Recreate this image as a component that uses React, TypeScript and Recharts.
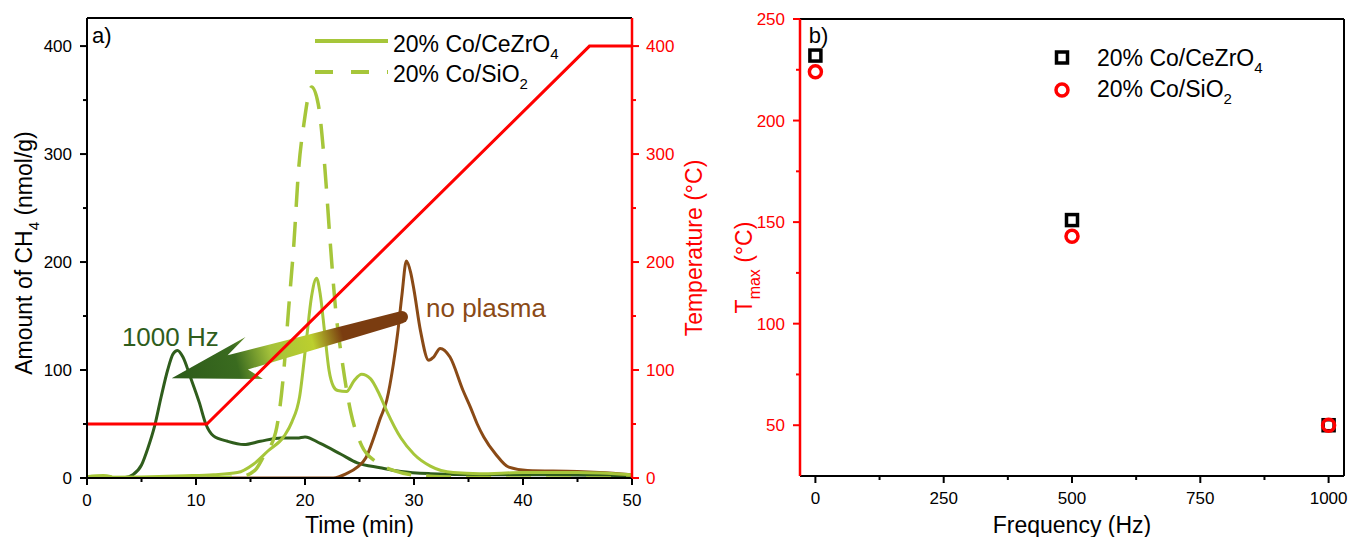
import React from 'react';
import {
  LineChart, Line, XAxis, YAxis, ReferenceLine, ReferenceDot, Legend,
  ScatterChart, Scatter,
} from 'recharts';

const FONT = "'Liberation Sans', Arial, Helvetica, sans-serif";

// ---------- Panel a) data ----------
const timeHz1000 = [0, 2, 3.5, 4.2, 5, 5.6, 6.2, 6.8, 7.4, 7.9, 8.3, 8.8, 9.5, 10.3, 10.9, 11.6, 12.9, 14.4, 15.9, 17.8, 19.3, 20.0, 21.4, 23.3, 24.8, 26.9, 28.8, 31.5, 36, 42, 50];
const ch4Hz1000 = [0, 0, 0.5, 3, 12, 28, 48, 75, 100, 115, 118, 112, 93, 70, 50, 39, 34, 31, 34, 37, 37, 38, 32, 22, 14, 9.5, 6, 4, 3, 3, 2];

const timeCeZr = [0, 5, 9, 11.6, 13.8, 15.3, 16.6, 18.1, 18.8, 19.5, 20.1, 20.6, 21.06, 21.4, 21.8, 22.2, 22.6, 23.0, 23.8, 24.5, 25.2, 26.0, 26.8, 27.5, 28.8, 30, 31.5, 33.6, 36, 40, 45, 50];
const ch4CeZr = [0.5, 1, 2, 3, 5, 13, 25, 39, 52, 75, 125, 168, 185, 170, 135, 100, 85, 81, 80, 90, 96, 92, 78, 62, 37, 22, 11, 5, 4, 5, 5, 3];

const timeSiO2 = [0, 1.5, 3, 10, 14, 15.4, 16.2, 17.3, 18.0, 18.5, 19.0, 19.4, 19.9, 20.6, 21.2, 21.8, 22.3, 22.8, 23.4, 24.2, 25.2, 26.5, 28.1, 30.2, 33, 40, 50];
const ch4SiO2 = [1, 2, 0, 0, 1, 7, 20, 42, 93, 157, 220, 284, 328, 362, 347, 290, 220, 157, 109, 61, 30, 15, 7, 2.5, 1, 0, 0];

const timeNoPlasma = [0, 22.6, 23.8, 24.8, 25.6, 26.3, 26.9, 27.5, 28.1, 28.5, 28.9, 29.3, 29.7, 30.0, 30.6, 31.35, 31.8, 32.4, 33.3, 34.5, 35.2, 35.8, 36.4, 37.5, 38.7, 40.4, 45, 47, 50];
const ch4NoPlasma = [0, 0, 4, 10, 19, 37, 55, 72, 105, 134, 170, 201, 190, 174, 136, 109, 112, 120, 112, 81, 65, 50, 38, 22, 10, 7, 6, 5, 3];

const timeRamp = [0, 11, 46.1, 50];
const tempRamp = [50, 50, 400, 400];

const timeTicks = [0, 5, 10, 15, 20, 25, 30, 35, 40, 45, 50];
const amountTicks = [0, 50, 100, 150, 200, 250, 300, 350, 400];
const tempTicks = [0, 50, 100, 150, 200, 250, 300, 350, 400];

// ---------- Panel b) data ----------
const frequencies = [0, 500, 1000];
const tmaxCeZr = [232, 151, 50];
const tmaxSiO2 = [224, 143, 50];
const freqTicks = [0, 125, 250, 375, 500, 625, 750, 875, 1000];
const tmaxTicks = [50, 75, 100, 125, 150, 175, 200, 225, 250];

const toXY = (xs: number[], ys: number[]) => xs.map((x, i) => ({ x, y: ys[i] }));
const toFT = (fs: number[], ts: number[]) => fs.map((f, i) => ({ f, t: ts[i] }));

const DARK_GREEN = '#2f5d1c';
const LIGHT_GREEN = '#a6c63a';
const BROWN = '#8a4a16';
const RED = '#ff0000';

// ---------- tick renderers ----------
const makeBottomTick = (majorStep: number, color: string) => (props: any) => {
  const { x, y, payload } = props;
  const v = payload.value;
  const major = Math.abs(v % majorStep) < 1e-6;
  return (
    <g>
      <line x1={x} x2={x} y1={y} y2={y + (major ? 7 : 4)} stroke={color} strokeWidth={2} />
      {major && (
        <text x={x} y={y + 28} textAnchor="middle" fontSize={17} fill={color}>{v}</text>
      )}
    </g>
  );
};

const makeLeftTick = (majorStep: number, color: string, offset = 0) => (props: any) => {
  const { x, y, payload } = props;
  const v = payload.value;
  const major = Math.abs((v - offset) % majorStep) < 1e-6;
  return (
    <g>
      <line x1={x - (major ? 7 : 4)} x2={x} y1={y} y2={y} stroke={color} strokeWidth={2} />
      {major && (
        <text x={x - 15} y={y + 6} textAnchor="end" fontSize={17} fill={color}>{v}</text>
      )}
    </g>
  );
};

const makeRightTick = (majorStep: number, color: string) => (props: any) => {
  const { x, y, payload } = props;
  const v = payload.value;
  const major = Math.abs(v % majorStep) < 1e-6;
  return (
    <g>
      <line x1={x} x2={x + (major ? 7 : 4)} y1={y} y2={y} stroke={color} strokeWidth={2} />
      {major && (
        <text x={x + 14} y={y + 6} textAnchor="start" fontSize={17} fill={color}>{v}</text>
      )}
    </g>
  );
};

// ---------- axis labels ----------
const AmountLabel = (props: any) => {
  const vb = props.viewBox || { x: 0, y: 18, width: 87, height: 460 };
  const cx = vb.x + 32;
  const cy = vb.y + vb.height / 2 + 5;
  return (
    <text x={cx} y={cy} transform={`rotate(-90, ${cx}, ${cy})`} textAnchor="middle" fontSize={23} fill="#000">
      Amount of CH<tspan dy={7} fontSize={15}>4</tspan><tspan dy={-7}>{'\u00A0(nmol/g)'}</tspan>
    </text>
  );
};

const TempLabel = (props: any) => {
  const vb = props.viewBox || { x: 632, y: 18, width: 78, height: 460 };
  const cx = vb.x + 70;
  const cy = vb.y + vb.height / 2;
  return (
    <text x={cx} y={cy} transform={`rotate(-90, ${cx}, ${cy})`} textAnchor="middle" fontSize={23} fill={RED}>
      Temperature (°C)
    </text>
  );
};

const TimeLabel = (props: any) => {
  const vb = props.viewBox || { x: 87, y: 478, width: 545, height: 59 };
  return (
    <text x={vb.x + vb.width / 2} y={vb.y + 55} textAnchor="middle" fontSize={23} fill="#000">Time (min)</text>
  );
};

const TmaxLabel = (props: any) => {
  const vb = props.viewBox || { x: 0, y: 19, width: 100, height: 457 };
  const cx = vb.x + 52;
  const cy = vb.y + vb.height / 2 + 20;
  return (
    <text x={cx} y={cy} transform={`rotate(-90, ${cx}, ${cy})`} textAnchor="middle" fontSize={23} fill={RED}>
      T<tspan dy={8} fontSize={16}>max</tspan><tspan dy={-8}>{'\u00A0(°C)'}</tspan>
    </text>
  );
};

const FreqLabel = (props: any) => {
  const vb = props.viewBox || { x: 100, y: 476, width: 544, height: 61 };
  return (
    <text x={vb.x + vb.width / 2} y={vb.y + 57} textAnchor="middle" fontSize={23} fill="#000">Frequency (Hz)</text>
  );
};

// ---------- annotations ----------
const textMark = (text: string, color: string, size: number) => (props: any) => {
  const vb = props.viewBox || { x: 0, y: 0 };
  return (
    <text x={vb.x} y={vb.y} fill={color} fontSize={size}>{text}</text>
  );
};

const ArrowShape = (p: any) => {
  const { x1, y1, x2, y2 } = p; // tail -> tip
  const dx = x1 - x2;
  const dy = y1 - y2;
  const L = Math.hypot(dx, dy) || 1;
  const ux = dx / L, uy = dy / L;
  const nx = -uy, ny = ux;
  const P = (a: number, b: number) => `${x2 + a * ux + b * nx},${y2 + a * uy + b * ny}`;
  const pts = [P(0, 0), P(82, -21), P(60, -8), P(L, -6), P(L, 6), P(76, 11), P(88, 24)].join(' ');
  return (
    <g>
      <defs>
        <linearGradient id="arrowGrad" gradientUnits="userSpaceOnUse" x1={x1} y1={y1} x2={x2} y2={y2}>
          <stop offset="0" stopColor="#7a3c10" />
          <stop offset="0.26" stopColor="#7a3c10" />
          <stop offset="0.39" stopColor="#bccf2e" />
          <stop offset="0.57" stopColor="#a5c23a" />
          <stop offset="0.72" stopColor="#3a6b1f" />
          <stop offset="1" stopColor="#2c5a1a" />
        </linearGradient>
      </defs>
      <polygon points={pts} fill="url(#arrowGrad)" />
      <circle cx={x1} cy={y1} r={6} fill="#7a3c10" />
    </g>
  );
};

// ---------- legends ----------
const LegendA = () => (
  <svg width={300} height={70} style={{ overflow: 'visible', fontFamily: FONT }}>
    <line x1={5} x2={78} y1={16} y2={16} stroke={LIGHT_GREEN} strokeWidth={4} />
    <line x1={5} x2={78} y1={47} y2={47} stroke={LIGHT_GREEN} strokeWidth={4} strokeDasharray="18 18" />
    <text x={83} y={27} fontSize={23} fill="#000">20% Co/CeZrO<tspan dy={7} fontSize={15}>4</tspan></text>
    <text x={83} y={57} fontSize={23} fill="#000">20% Co/SiO<tspan dy={7} fontSize={15}>2</tspan></text>
  </svg>
);

const LegendB = () => (
  <svg width={260} height={70} style={{ overflow: 'visible', fontFamily: FONT }}>
    <rect x={6.5} y={7} width={11} height={11} fill="none" stroke="#000" strokeWidth={3.5} />
    <circle cx={12} cy={45} r={6} fill="none" stroke={RED} strokeWidth={3.5} />
    <text x={47} y={21} fontSize={23} fill="#000">20% Co/CeZrO<tspan dy={7} fontSize={15}>4</tspan></text>
    <text x={47} y={52} fontSize={23} fill="#000">20% Co/SiO<tspan dy={7} fontSize={15}>2</tspan></text>
  </svg>
);

const SquareShape = (p: any) => (
  <rect x={p.cx - 5.5} y={p.cy - 5.5} width={11} height={11} fill="none" stroke="#000" strokeWidth={3.5} />
);
const CircleShape = (p: any) => (
  <circle cx={p.cx} cy={p.cy} r={6} fill="none" stroke={RED} strokeWidth={3.5} />
);

export default function App() {
  return (
    <div style={{ position: 'absolute', left: 0, top: 0, width: 1353, height: 537, background: '#fff', fontFamily: FONT }}>
      {/* Panel a */}
      <div style={{ position: 'absolute', left: 0, top: 0 }}>
        <LineChart width={710} height={537} margin={{ top: 18, right: 0, bottom: 0, left: 0 }}>
          <XAxis
            dataKey="x" type="number" domain={[0, 50]} allowDataOverflow ticks={timeTicks} interval={0}
            height={59} tickSize={0} tickMargin={0} tickLine={false}
            axisLine={{ stroke: '#000', strokeWidth: 2 }}
            tick={makeBottomTick(10, '#000')}
            label={TimeLabel}
          />
          <YAxis
            yAxisId="left" type="number" domain={[0, 426]} allowDataOverflow ticks={amountTicks} interval={0}
            width={87} tickSize={0} tickMargin={0} tickLine={false}
            axisLine={{ stroke: '#000', strokeWidth: 2 }}
            tick={makeLeftTick(100, '#000')}
            label={AmountLabel}
          />
          <YAxis
            yAxisId="right" orientation="right" type="number" domain={[0, 426]} allowDataOverflow ticks={tempTicks} interval={0}
            width={78} tickSize={0} tickMargin={0} tickLine={false}
            axisLine={{ stroke: RED, strokeWidth: 2.5 }}
            tick={makeRightTick(100, RED)}
            label={TempLabel}
          />
          <ReferenceLine yAxisId="left" y={426} stroke="#000" strokeWidth={2} />
          <Line yAxisId="left" data={toXY(timeHz1000, ch4Hz1000)} dataKey="y" type="monotone" stroke={DARK_GREEN} strokeWidth={3} dot={false} activeDot={false} isAnimationActive={false} />
          <Line yAxisId="left" data={toXY(timeNoPlasma, ch4NoPlasma)} dataKey="y" type="monotone" stroke={BROWN} strokeWidth={3} dot={false} activeDot={false} isAnimationActive={false} />
          <Line yAxisId="left" data={toXY(timeSiO2, ch4SiO2)} dataKey="y" type="monotone" stroke={LIGHT_GREEN} strokeWidth={3.5} strokeDasharray="25 15" dot={false} activeDot={false} isAnimationActive={false} />
          <Line yAxisId="left" data={toXY(timeCeZr, ch4CeZr)} dataKey="y" type="monotone" stroke={LIGHT_GREEN} strokeWidth={3} dot={false} activeDot={false} isAnimationActive={false} />
          <ReferenceLine yAxisId="left" segment={[{ x: 28.9, y: 149 }, { x: 7.77, y: 92.3 }]} shape={ArrowShape} ifOverflow="visible" />
          <Line yAxisId="right" data={toXY(timeRamp, tempRamp)} dataKey="y" type="linear" stroke={RED} strokeWidth={3} dot={false} activeDot={false} isAnimationActive={false} />
          <ReferenceDot yAxisId="left" x={31.1} y={149} r={0} fill="none" stroke="none" label={textMark('no plasma', BROWN, 26)} />
          <ReferenceDot yAxisId="left" x={3.2} y={122} r={0} fill="none" stroke="none" label={textMark('1000 Hz', DARK_GREEN, 26)} />
          <ReferenceDot yAxisId="left" x={0.45} y={403} r={0} fill="none" stroke="none" label={textMark('a)', '#000', 22)} />
          <Legend
            layout="horizontal" verticalAlign="middle" align="center"
            wrapperStyle={{ position: 'absolute', left: 310, top: 25, width: 300, height: 70 }}
            content={LegendA}
          />
        </LineChart>
      </div>

      {/* Panel b */}
      <div style={{ position: 'absolute', left: 700, top: 0 }}>
        <ScatterChart width={653} height={537} margin={{ top: 19, right: 9, bottom: 0, left: 0 }}>
          <XAxis
            dataKey="f" type="number" domain={[-30, 1030]} allowDataOverflow ticks={freqTicks} interval={0}
            height={61} tickSize={0} tickMargin={0} tickLine={false}
            axisLine={{ stroke: '#000', strokeWidth: 2 }}
            tick={makeBottomTick(250, '#000')}
            label={FreqLabel}
          />
          <YAxis
            dataKey="t" type="number" domain={[25, 250]} allowDataOverflow ticks={tmaxTicks} interval={0}
            width={100} tickSize={0} tickMargin={0} tickLine={false}
            axisLine={{ stroke: RED, strokeWidth: 2.5 }}
            tick={makeLeftTick(50, RED)}
            label={TmaxLabel}
          />
          <ReferenceLine y={250} stroke="#000" strokeWidth={2} />
          <ReferenceLine x={1030} stroke="#000" strokeWidth={2} />
          <Scatter data={toFT(frequencies, tmaxCeZr)} dataKey="t" shape={SquareShape} isAnimationActive={false} />
          <Scatter data={toFT(frequencies, tmaxSiO2)} dataKey="t" shape={CircleShape} isAnimationActive={false} />
          <ReferenceDot x={-13} y={238.3} r={0} fill="none" stroke="none" label={textMark('b)', '#000', 22)} />
          <Legend
            layout="horizontal" verticalAlign="middle" align="center"
            wrapperStyle={{ position: 'absolute', left: 350, top: 45, width: 260, height: 70 }}
            content={LegendB}
          />
        </ScatterChart>
      </div>
    </div>
  );
}
